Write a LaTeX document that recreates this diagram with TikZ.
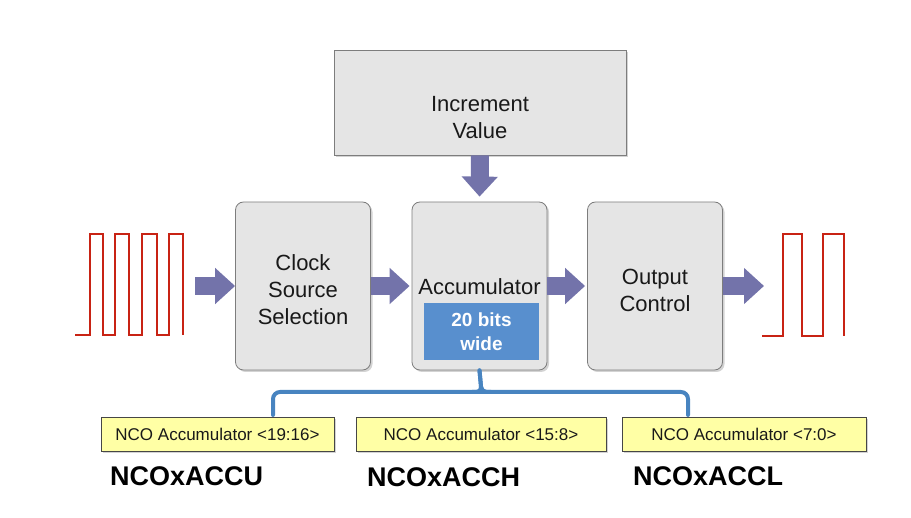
\documentclass[tikz,border=0pt]{standalone}
\usepackage{fontspec}
\setmainfont{Liberation Sans}
\usetikzlibrary{arrows.meta,shadows}
\definecolor{boxfill}{RGB}{229,229,229}
\definecolor{boxline}{RGB}{125,125,125}
\definecolor{arrowc}{RGB}{115,115,170}
\definecolor{wavec}{RGB}{200,35,20}
\definecolor{bluebox}{RGB}{88,143,206}
\definecolor{bracketc}{RGB}{72,132,192}
\definecolor{yellowf}{RGB}{255,255,165}
\definecolor{yellowl}{RGB}{70,70,70}
\definecolor{txt}{RGB}{25,25,25}
\begin{document}
\begin{tikzpicture}[x=1pt,y=-1pt,
  blockbox/.style={draw=boxline, line width=0.8pt, fill=boxfill, rounded corners=8pt,
    minimum width=135pt, minimum height=168pt, inner sep=0pt,
    drop shadow={opacity=0.35, shadow xshift=2pt, shadow yshift=-2pt}},
  topbox/.style={draw=boxline, line width=0.8pt, fill=boxfill,
    minimum width=292pt, minimum height=105pt, inner sep=0pt,
    drop shadow={opacity=0.35, shadow xshift=2pt, shadow yshift=-2pt}},
  blocktext/.style={align=center, text=txt, font=\fontsize{22}{27}\selectfont, inner sep=0pt},
  bitsbox/.style={fill=bluebox, minimum width=115pt, minimum height=57pt, inner sep=0pt,
    align=center, text=white, font=\fontsize{19}{24}\selectfont\bfseries},
  regbox/.style={draw=yellowl, line width=0.8pt, fill=yellowf, minimum height=34pt, inner sep=0pt,
    text=txt, font=\fontsize{17}{20}\selectfont,
    drop shadow={opacity=0.35, shadow xshift=2pt, shadow yshift=-2pt}},
  reglabel/.style={anchor=base west, inner sep=0pt, text=black, font=\fontsize{27}{30}\selectfont\bfseries},
  bigarrow/.style={draw=arrowc, line width=18pt, -{Triangle[length=20pt, width=35pt]}},
  wave/.style={draw=wavec, line width=2pt, line join=miter},
  bracket/.style={draw=bracketc, line width=4pt, line cap=round}
]
\useasboundingbox (0,0) rectangle (911,518);

% blocks
\node[topbox] (inc) at (480,102.5) {};
\node[blocktext] (inctext) at (480,118) {Increment\\Value};
\node[blockbox] (clk) at (303,286) {};
\node[blocktext] (clktext) at (303,290) {Clock\\Source\\Selection};
\node[blockbox] (acc) at (479.5,286) {};
\node[blocktext, anchor=base] (acctext) at (479.5,295) {Accumulator};
\node[bitsbox] (bits) at (481.5,331.5) {20 bits\\wide};
\node[blockbox] (out) at (655,286) {};
\node[blocktext] (outtext) at (655,290) {Output\\Control};

% waves
\draw[wave] (75,335) -- (90,335) -- (90,234) -- (103,234) -- (103,335) -- (115,335)
  -- (115,234) -- (129,234) -- (129,335) -- (142,335) -- (142,234) -- (157,234)
  -- (157,335) -- (169,335) -- (169,234) -- (183,234) -- (183,335);
\draw[wave] (762,336) -- (783,336) -- (783,234) -- (802,234) -- (802,336) -- (823,336)
  -- (823,234) -- (844,234) -- (844,336);

% arrows
\coordinate (inS) at (195,286);
\coordinate (outE) at (764,286);
\draw[bigarrow] (inS) -- (clk.west);
\draw[bigarrow] (clk.east) -- ([xshift=-2pt]acc.west);
\draw[bigarrow] (acc.east) -- ([xshift=-2pt]out.west);
\draw[bigarrow] (out.east) -- (outE);
\draw[bigarrow, shorten >=5pt] (inc.south) -- (acc.north);

% registers
\node[regbox, minimum width=233pt] (r1) at (217.5,434) {NCO Accumulator <19:16>};
\node[regbox, minimum width=250pt] (r2) at (481,434) {NCO Accumulator <15:8>};
\node[regbox, minimum width=244pt] (r3) at (744,434) {NCO Accumulator <7:0>};

\node[reglabel] (l1) at (110,486) {NCOxACCU};
\node[reglabel] (l2) at (367,487) {NCOxACCH};
\node[reglabel] (l3) at (633,486) {NCOxACCL};

% bracket
\coordinate (b1) at (273,415);
\coordinate (b3) at (688,415);
\coordinate (bl) at (273,392);
\coordinate (br) at (688,392);
\coordinate (bj) at (481.5,392);
\draw[bracket, rounded corners=7pt] (b1) -- (bl) -- (br) -- (b3);
\draw[bracket, rounded corners=5pt] (472,392) -- (bj) -- (acc.south);
\draw[bracket, rounded corners=5pt] (491,392) -- (bj) -- (acc.south);
\end{tikzpicture}
\end{document}
